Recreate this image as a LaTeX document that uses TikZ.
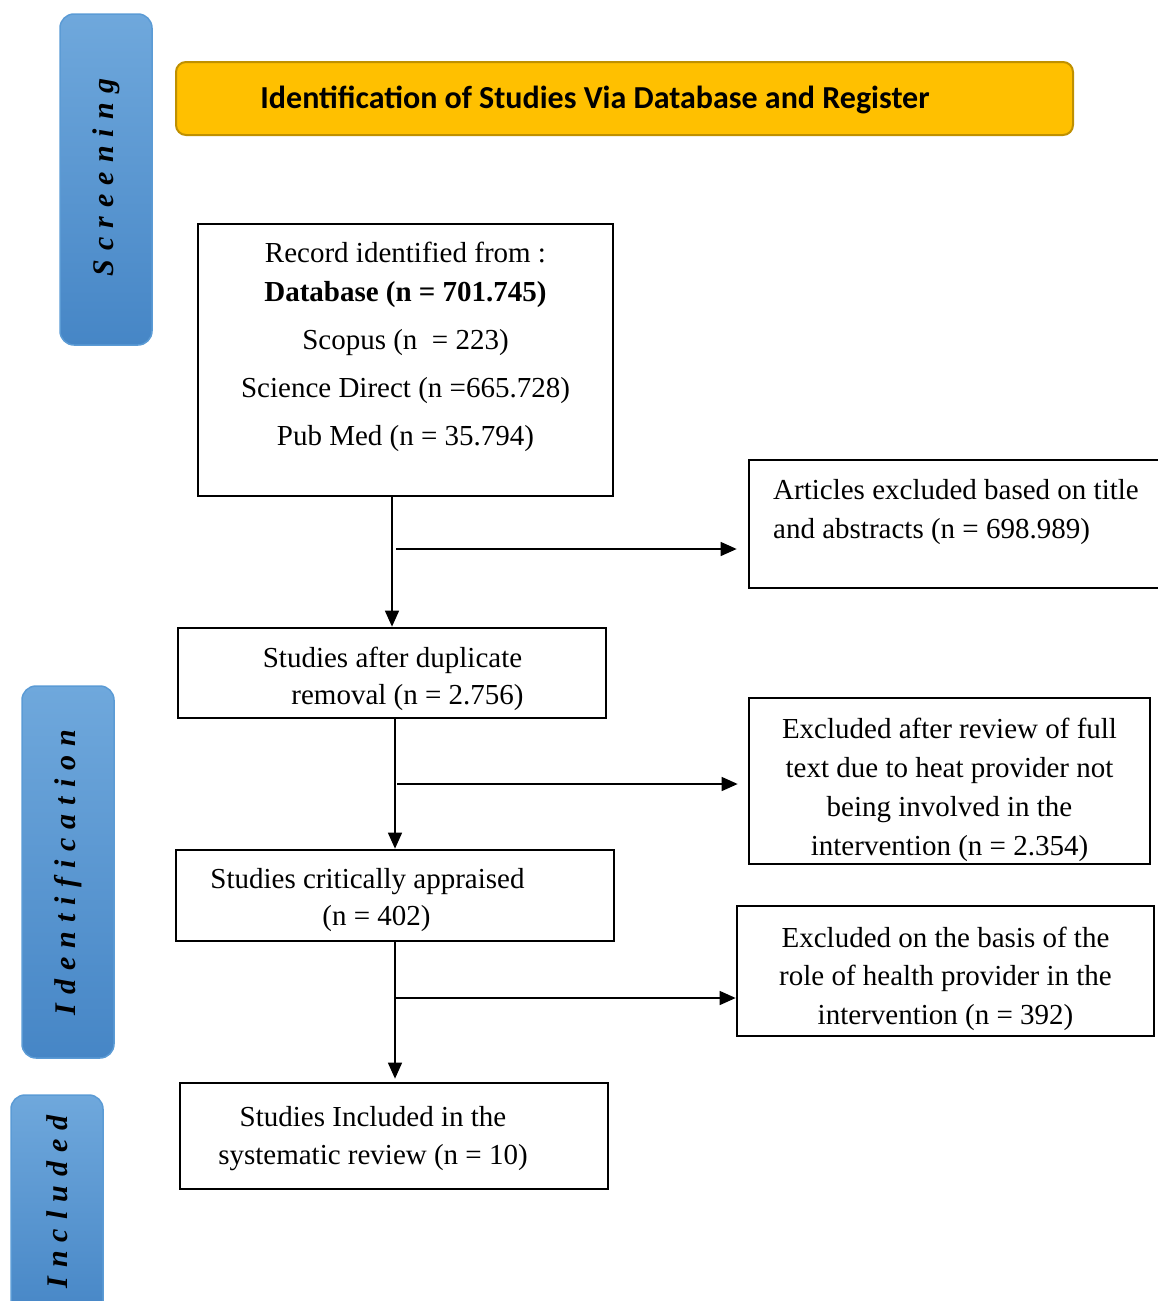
\documentclass[tikz,border=0pt]{standalone}
\usepackage{fontspec}
\setmainfont{Liberation Serif}
\newfontfamily\headfont{Carlito}
\newfontfamily\sidefont[LetterSpace=30]{Liberation Serif}
\usetikzlibrary{arrows.meta}
\definecolor{hdryellow}{HTML}{FFC000}
\definecolor{hdredge}{HTML}{BF9000}
\definecolor{sidetop}{HTML}{6FA8DC}
\definecolor{sidebot}{HTML}{4686C6}
\definecolor{sideedge}{HTML}{5B9BD5}
\tikzstyle{box_normal} = [draw, line width=2.7pt, inner sep=0pt]
\tikzstyle{text_normal} = [inner sep=0pt, align=center, font=\fontsize{29}{38.5}\selectfont]
\tikzstyle{side_box} = [draw=sideedge, line width=1.5pt, rounded corners=14pt, top color=sidetop, bottom color=sidebot, inner sep=0pt]
\tikzstyle{side_text} = [rotate=90, inner sep=0pt, font=\sidefont\bfseries\itshape\fontsize{30}{32}\selectfont]
\tikzstyle{arrow_normal} = [line width=1.5pt, -{Triangle[length=16pt,width=14pt]}]

\begin{document}
\begin{tikzpicture}[x=1pt, y=-1pt]
\useasboundingbox (0,0) rectangle (1157,1301);
% side labels
\node (scr) at (106,179.5) [side_box, minimum width=92, minimum height=331] {};
\node (scr_t) at (106,177.5) [side_text] {Screening};
\node (idf) at (68,872) [side_box, minimum width=92, minimum height=372] {};
\node (idf_t) at (68,872.5) [side_text] {Identification};
\node (inc_s) at (57,1207.5) [side_box, minimum width=92, minimum height=225] {};
\node (inc_t) at (57,1202) [side_text] {Included};
% header
\node (hdr) at (624.5,98.5) [draw=hdredge, line width=2pt, rounded corners=10pt, fill=hdryellow, minimum width=897, minimum height=73] {};
\node (hdr_t) at (595,100) [inner sep=0pt, font=\headfont\bfseries\fontsize{32}{34}\selectfont] {Identification of Studies Via Database and Register};
% main column
\node (rec) at (405.5,360) [box_normal, minimum width=415, minimum height=272] {};
\node (rec_t) at (405.5,347) [text_normal, font=\fontsize{29}{48}\selectfont] {Record identified from :\\[-9pt]\textbf{Database (n = 701.745)}\\Scopus (n~~= 223)\\Science Direct (n =665.728)\\Pub Med (n = 35.794)};
\node (dup) at (392,673) [box_normal, minimum width=428, minimum height=90] {};
\node (dup_t) at (392.5,679) [text_normal, font=\fontsize{29}{37}\selectfont] {Studies after duplicate\\\hspace*{30pt}removal (n = 2.756)};
\node (app) at (395,895.5) [box_normal, minimum width=438, minimum height=91] {};
\node (app_t) at (367.5,900) [text_normal, font=\fontsize{29}{37}\selectfont] {Studies critically appraised\\\hspace*{18pt}(n = 402)};
\node (inc) at (394,1136) [box_normal, minimum width=428, minimum height=106] {};
\node (inc_t2) at (373,1138.5) [text_normal] {Studies Included in the\\systematic review (n = 10)};
% exclusions
\node (exc1) at (955,524) [box_normal, minimum width=412, minimum height=128] {};
\node (exc1_t) at (773,512) [text_normal, anchor=west, align=left] {Articles excluded based on title\\and abstracts (n = 698.989)};
\node (exc2) at (949.5,781) [box_normal, minimum width=401, minimum height=166] {};
\node (exc2_t) at (949.5,789.5) [text_normal, font=\fontsize{29}{39}\selectfont] {Excluded after review of full\\text due to heat provider not\\being involved in the\\intervention (n = 2.354)};
\node (exc3) at (945.5,971) [box_normal, minimum width=417, minimum height=130] {};
\node (exc3_t) at (945.5,978.5) [text_normal] {Excluded on the basis of the\\role of health provider in the\\intervention (n = 392)};
% connectors
\coordinate (j1) at (396,549);
\coordinate (j2) at (397,784);
\coordinate (j3) at (396,998);
\draw[arrow_normal] (rec.south -| dup.north) -- (dup.north);
\draw[arrow_normal] (j1) -- (exc1.west |- j1) [shorten >=11pt];
\draw[arrow_normal] (app.north |- dup.south) -- (app.north);
\draw[arrow_normal] (j2) -- (exc2.west |- j2) [shorten >=10pt];
\draw[arrow_normal, shorten >=3pt] (app.south) -- (app.south |- inc.north);
\draw[arrow_normal] (j3) -- (exc3.west |- j3);
\end{tikzpicture}
\end{document}
